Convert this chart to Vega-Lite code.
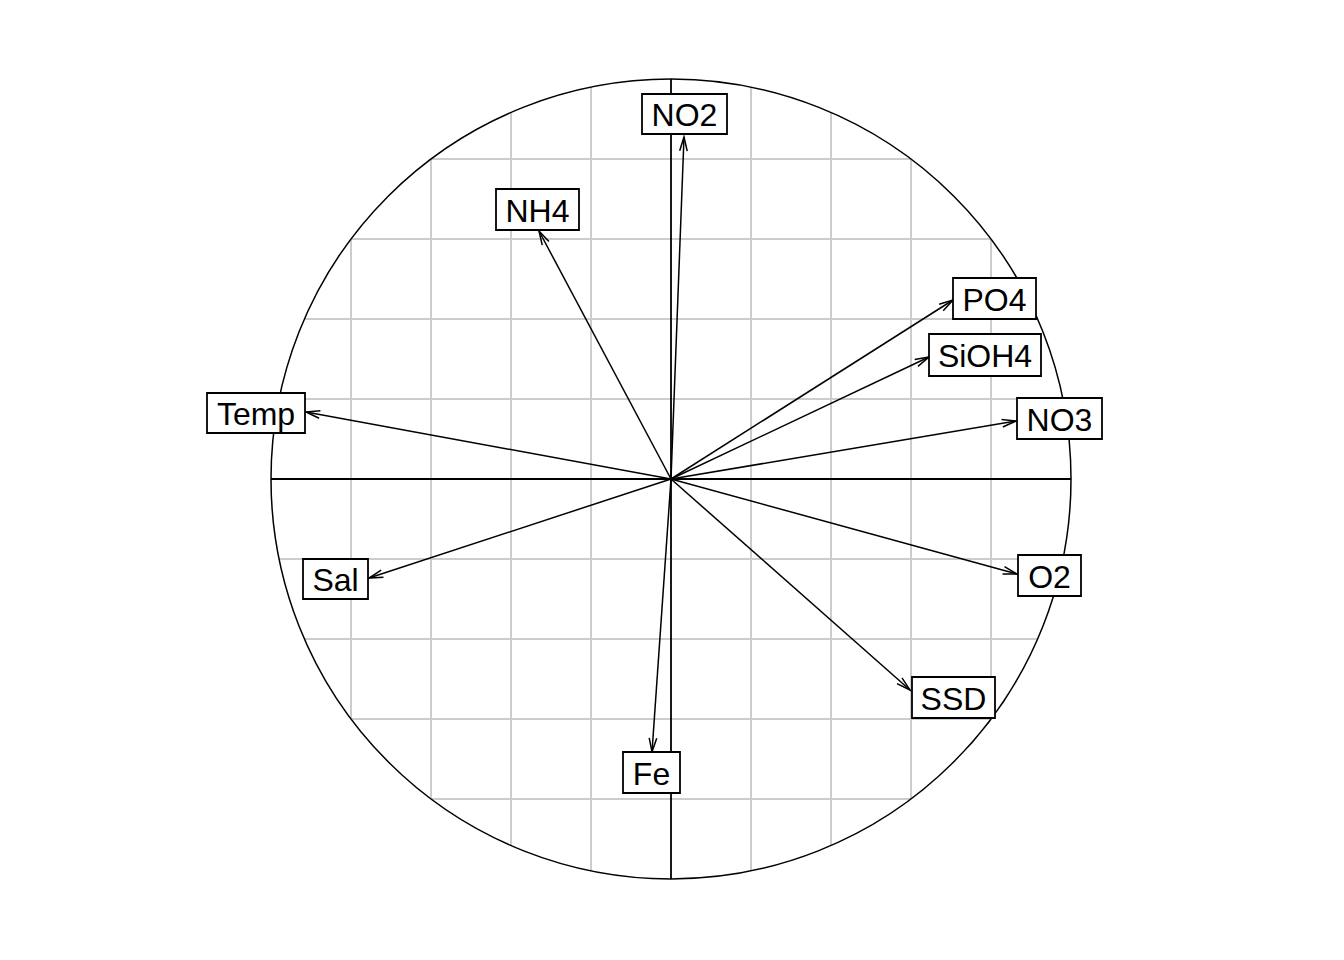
{
  "$schema": "https://vega.github.io/schema/vega-lite/v6.json",
  "autosize": "none",
  "width": 800,
  "height": 800,
  "padding": {"left": 271, "top": 79, "right": 273, "bottom": 81},
  "background": "white",
  "config": {"view": {"stroke": null}},
  "datasets": {
    "vars": [
      {"name": "NO2", "x": 0.0325, "y": 0.855, "bx1": -0.0725, "bx2": 0.14, "by1": 0.8625, "by2": 0.9625},
      {"name": "NH4", "x": -0.33, "y": 0.62, "bx1": -0.4375, "bx2": -0.23, "by1": 0.6225, "by2": 0.725},
      {"name": "PO4", "x": 0.705, "y": 0.4475, "bx1": 0.705, "bx2": 0.9125, "by1": 0.40, "by2": 0.5025},
      {"name": "SiOH4", "x": 0.645, "y": 0.305, "bx1": 0.645, "bx2": 0.925, "by1": 0.2575, "by2": 0.3625},
      {"name": "NO3", "x": 0.8625, "y": 0.145, "bx1": 0.865, "bx2": 1.0775, "by1": 0.10, "by2": 0.2025},
      {"name": "Temp", "x": -0.9125, "y": 0.1675, "bx1": -1.16, "bx2": -0.915, "by1": 0.115, "by2": 0.215},
      {"name": "Sal", "x": -0.755, "y": -0.2475, "bx1": -0.92, "bx2": -0.7575, "by1": -0.30, "by2": -0.20},
      {"name": "O2", "x": 0.865, "y": -0.2375, "bx1": 0.8675, "bx2": 1.025, "by1": -0.2925, "by2": -0.19},
      {"name": "SSD", "x": 0.5975, "y": -0.5275, "bx1": 0.6025, "bx2": 0.81, "by1": -0.5975, "by2": -0.495},
      {"name": "Fe", "x": -0.0475, "y": -0.6825, "bx1": -0.12, "bx2": 0.0225, "by1": -0.785, "by2": -0.6825}
    ],
    "grid": [
      {"x1": -0.8, "x2": -0.8, "y1": -0.6, "y2": 0.6},
      {"x1": -0.6, "x2": -0.6, "y1": -0.8, "y2": 0.8},
      {"x1": -0.4, "x2": -0.4, "y1": -0.9165, "y2": 0.9165},
      {"x1": -0.2, "x2": -0.2, "y1": -0.9798, "y2": 0.9798},
      {"x1": 0.2, "x2": 0.2, "y1": -0.9798, "y2": 0.9798},
      {"x1": 0.4, "x2": 0.4, "y1": -0.9165, "y2": 0.9165},
      {"x1": 0.6, "x2": 0.6, "y1": -0.8, "y2": 0.8},
      {"x1": 0.8, "x2": 0.8, "y1": -0.6, "y2": 0.6},
      {"y1": -0.8, "y2": -0.8, "x1": -0.6, "x2": 0.6},
      {"y1": -0.6, "y2": -0.6, "x1": -0.8, "x2": 0.8},
      {"y1": -0.4, "y2": -0.4, "x1": -0.9165, "x2": 0.9165},
      {"y1": -0.2, "y2": -0.2, "x1": -0.9798, "x2": 0.9798},
      {"y1": 0.2, "y2": 0.2, "x1": -0.9798, "x2": 0.9798},
      {"y1": 0.4, "y2": 0.4, "x1": -0.9165, "x2": 0.9165},
      {"y1": 0.6, "y2": 0.6, "x1": -0.8, "x2": 0.8},
      {"y1": 0.8, "y2": 0.8, "x1": -0.6, "x2": 0.6}
    ],
    "axes": [
      {"x1": -1, "x2": 1, "y1": 0, "y2": 0},
      {"x1": 0, "x2": 0, "y1": -1, "y2": 1}
    ],
    "origin": [{"x": 0, "y": 0}]
  },
  "layer": [
    {
      "data": {"name": "grid"},
      "mark": {"type": "rule", "color": "#CCCCCC", "strokeWidth": 2},
      "encoding": {
        "x": {"field": "x1", "type": "quantitative", "scale": {"domain": [-1, 1], "nice": false, "zero": false}, "axis": null},
        "x2": {"field": "x2"},
        "y": {"field": "y1", "type": "quantitative", "scale": {"domain": [-1, 1], "nice": false, "zero": false}, "axis": null},
        "y2": {"field": "y2"}
      }
    },
    {
      "data": {"name": "origin"},
      "mark": {"type": "point", "shape": "circle", "size": 640000, "filled": false, "stroke": "black", "strokeWidth": 1.5, "opacity": 1},
      "encoding": {
        "x": {"field": "x", "type": "quantitative"},
        "y": {"field": "y", "type": "quantitative"}
      }
    },
    {
      "data": {"name": "axes"},
      "mark": {"type": "rule", "color": "black", "strokeWidth": 1.8},
      "encoding": {
        "x": {"field": "x1", "type": "quantitative"},
        "x2": {"field": "x2"},
        "y": {"field": "y1", "type": "quantitative"},
        "y2": {"field": "y2"}
      }
    },
    {
      "data": {"name": "vars"},
      "mark": {"type": "rule", "color": "black", "strokeWidth": 1.5},
      "encoding": {
        "x": {"field": "x", "type": "quantitative"},
        "y": {"field": "y", "type": "quantitative"},
        "x2": {"datum": 0},
        "y2": {"datum": 0}
      }
    },
    {
      "data": {"name": "vars"},
      "transform": [{"calculate": "90 - atan2(datum.y, datum.x) * 180 / PI", "as": "ang"}],
      "mark": {"type": "point", "shape": "M-0.27,1L0,0L0.27,1", "size": 784, "filled": false, "stroke": "black", "strokeWidth": 1.5, "opacity": 1},
      "encoding": {
        "x": {"field": "x", "type": "quantitative"},
        "y": {"field": "y", "type": "quantitative"},
        "angle": {"field": "ang", "type": "quantitative", "scale": null}
      }
    },
    {
      "data": {"name": "vars"},
      "mark": {"type": "rect", "fill": "white", "stroke": "black", "strokeWidth": 1.8},
      "encoding": {
        "x": {"field": "bx1", "type": "quantitative"},
        "x2": {"field": "bx2"},
        "y": {"field": "by1", "type": "quantitative"},
        "y2": {"field": "by2"}
      }
    },
    {
      "data": {"name": "vars"},
      "transform": [
        {"calculate": "(datum.bx1 + datum.bx2) / 2", "as": "lx"},
        {"calculate": "(datum.by1 + datum.by2) / 2", "as": "ly"}
      ],
      "mark": {"type": "text", "font": "Liberation Sans", "fontSize": 32, "color": "black", "align": "center", "baseline": "middle", "dy": 2},
      "encoding": {
        "x": {"field": "lx", "type": "quantitative"},
        "y": {"field": "ly", "type": "quantitative"},
        "text": {"field": "name"}
      }
    }
  ]
}
